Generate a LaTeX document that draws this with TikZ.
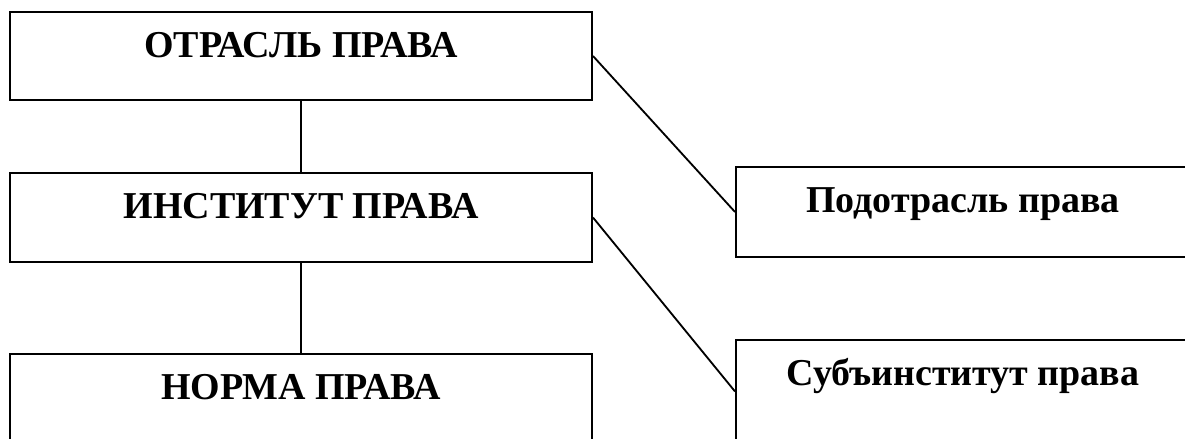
\documentclass[tikz,border=0pt]{standalone}
\usepackage{fontspec}
\setmainfont{Liberation Serif}

\begin{document}
\begin{tikzpicture}[x=0.025cm, y=-0.025cm, line width=1.3pt,
    box/.style={draw, rectangle, inner sep=0pt, minimum width=14.55cm, minimum height=2.2cm},
    subbox/.style={draw, rectangle, inner sep=0pt, minimum width=11.35cm},
    txt/.style={anchor=base, inner sep=0pt, font=\fontsize{27}{32}\selectfont\bfseries}]
    \useasboundingbox (0,0) rectangle (1185,439);
    \clip (0,0) rectangle (1185,439);
    % main column
    \node[box] (otr) at (301,56) {};
    \node[box, minimum height=2.225cm] (inst) at (301,217.5) {};
    \node[box, minimum height=2.225cm] (norm) at (301,398.5) {};
    % right column
    \node[subbox, minimum height=2.25cm] (podo) at (963,212) {};
    \node[subbox, minimum height=2.575cm] (subi) at (963,391.5) {};
    % texts
    \node[txt] at ([yshift=-1.15cm]otr.north) {ОТРАСЛЬ ПРАВА};
    \node[txt] at ([yshift=-1.15cm]inst.north) {ИНСТИТУТ ПРАВА};
    \node[txt] at ([yshift=-1.15cm]norm.north) {НОРМА ПРАВА};
    \node[txt] at ([yshift=-1.15cm]podo.north) {Подотрасль права};
    \node[txt] at ([yshift=-1.15cm]subi.north) {Субъинститут права};
    % links
    \draw (otr) -- (inst);
    \draw (inst) -- (norm);
    \draw (otr.east) -- (podo.west);
    \draw (inst.east) -- (subi.west);
\end{tikzpicture}
\end{document}
